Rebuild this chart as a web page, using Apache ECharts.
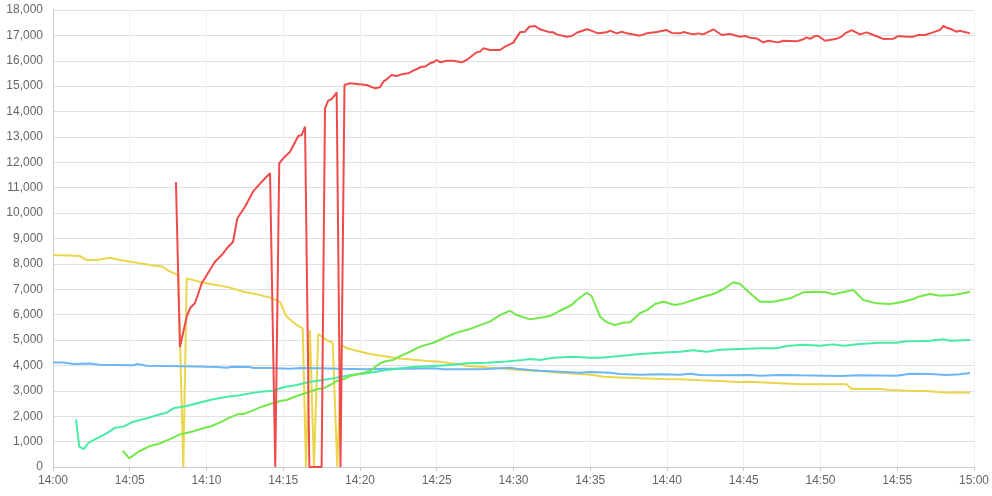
<!DOCTYPE html>
<html>
<head>
<meta charset="utf-8">
<script src="https://cdn.jsdelivr.net/npm/echarts@6/dist/echarts.min.js"></script>
<style>html,body{margin:0;padding:0;background:#fff}#c{width:992px;height:496px}</style>
</head>
<body>
<div id="c"></div>
<script>
// x values are minutes after 14:00
var xTickLabels = ['14:00','14:05','14:10','14:15','14:20','14:25','14:30','14:35','14:40','14:45','14:50','14:55','15:00'];

var redT = [8.01,8.27,8.71,8.93,9.25,9.69,10.10,10.55,10.99,11.42,11.73,12.01,12.51,13.03,13.60,14.14,14.25,14.48,14.74,15.00,15.44,15.98,16.20,16.42,16.70,17.50,17.72,17.93,18.16,18.37,18.48,18.73,18.99,19.35,20.44,20.98,21.30,21.52,21.74,22.07,22.39,22.72,23.15,23.47,24.02,24.23,24.56,24.78,25.00,25.21,25.65,26.08,26.63,26.95,27.60,27.82,28.03,28.47,29.12,29.45,29.99,30.42,30.75,31.03,31.40,31.73,32.38,32.59,32.81,33.47,33.79,34.12,34.77,34.98,35.52,36.07,36.29,36.72,37.05,37.38,38.24,38.68,39.33,39.98,40.31,40.85,41.07,41.71,42.04,42.37,43.02,43.56,44.10,44.76,45.08,45.41,45.84,46.27,46.60,47.25,47.58,48.45,48.88,49.10,49.32,49.64,49.86,50.29,51.05,51.38,51.60,52.03,52.57,53.01,53.44,54.09,54.74,55.07,55.62,56.05,56.37,56.81,57.13,57.57,57.78,58.00,58.22,58.55,58.83,59.09,59.41,59.74];
var redV = [11225,4726,5920,6260,6460,7235,7640,8086,8350,8677,8874,9795,10252,10843,11237,11567,11606,0,11962,12160,12420,13035,13075,13403,0,0,14128,14430,14495,14652,14757,0,15046,15112,15046,14915,14955,15177,15270,15440,15400,15465,15505,15610,15765,15765,15900,15940,16030,15940,16000,16000,15940,16030,16335,16360,16490,16425,16425,16555,16715,17120,17145,17340,17370,17240,17120,17120,17040,16950,16975,17105,17240,17210,17080,17120,17185,17080,17145,17080,16990,17080,17130,17210,17095,17080,17130,17040,17080,17040,17240,17015,17055,16950,16975,16910,16880,16725,16790,16725,16790,16765,16845,16920,16860,16975,16975,16790,16870,16950,17080,17210,17040,17120,17015,16860,16870,16975,16950,16950,17015,17015,17080,17170,17210,17370,17300,17240,17145,17185,17130,17080];

var yellowT = [0,1.76,2.20,2.85,3.71,4.36,5.45,6.32,7.17,7.51,8.16,8.49,8.71,9.79,10.66,11.53,12.40,13.27,14.14,14.79,15.22,15.88,16.27,16.48,16.74,17.00,17.28,17.83,18.22,18.52,18.81,19.13,19.79,20.65,21.52,22.39,23.69,24.35,25.21,25.86,26.51,26.95,27.82,28.47,29.12,29.77,30.42,31.73,33.03,34.33,35.20,35.85,36.94,38.24,39.54,40.85,42.15,43.45,44.54,45.41,46.06,47.36,48.66,51.71,52.03,53.88,54.53,55.62,56.92,58.22,59.09,59.74];
var yellowV = [8350,8310,8150,8150,8240,8150,8045,7955,7890,7730,7560,0,7430,7260,7170,7065,6905,6800,6680,6500,5920,5590,5460,0,5395,0,5240,5000,4895,0,4805,4675,4580,4450,4370,4280,4215,4175,4150,4085,4045,3980,3950,3910,3890,3850,3820,3780,3715,3660,3625,3555,3530,3495,3465,3455,3415,3385,3350,3360,3335,3295,3255,3255,3070,3070,3030,3005,2990,2925,2940,2925];

var blueT = [0,0.67,1.32,2.41,3.06,4.15,5.23,5.50,6.10,7.41,8.49,10.01,10.66,11.32,11.75,12.83,13.05,14.14,15.44,16.09,17.39,18.70,20.44,21.74,23.26,24.78,25.43,26.95,28.25,29.77,30.21,31.07,31.73,34.33,34.98,36.29,36.94,38.24,39.54,40.85,41.50,42.15,43.45,45.41,46.06,47.36,48.66,51.27,52.57,54.96,55.86,57.13,58.22,59.09,59.74];
var blueV = [4120,4120,4060,4075,4025,4020,4005,4055,3990,3980,3970,3945,3940,3910,3950,3940,3900,3900,3870,3895,3890,3870,3850,3870,3870,3890,3850,3850,3860,3910,3870,3820,3790,3715,3740,3715,3660,3635,3650,3635,3675,3625,3610,3625,3595,3625,3610,3585,3610,3595,3675,3660,3625,3650,3700];

var tealT = [1.50,1.71,2.00,2.30,2.85,3.50,4.04,4.58,5.23,6.10,6.97,7.41,7.84,8.71,9.58,10.44,11.32,12.18,12.83,13.49,14.35,15.00,15.88,16.74,17.61,18.48,19.35,20.44,21.74,23.26,24.78,25.86,26.95,28.25,29.56,30.42,31.07,31.73,32.59,33.90,34.98,35.64,36.94,38.24,39.54,40.85,41.71,42.59,43.45,44.76,46.06,47.15,47.80,48.88,49.97,50.83,51.49,52.57,53.88,54.96,55.62,56.48,57.13,58.00,58.44,59.74];
var tealV = [1880,800,700,950,1130,1325,1550,1590,1785,1915,2075,2140,2310,2400,2540,2665,2770,2830,2900,2965,3005,3140,3230,3360,3425,3520,3610,3690,3820,3925,3980,4015,4085,4110,4160,4200,4255,4215,4305,4345,4305,4305,4370,4450,4500,4540,4595,4540,4620,4650,4675,4675,4765,4815,4780,4830,4780,4845,4895,4895,4950,4960,4975,5030,4975,5000];

var limeT = [4.54,4.97,5.56,6.32,6.86,7.62,8.27,9.04,9.79,10.34,10.99,11.53,12.07,12.40,12.83,13.49,14.14,14.79,15.22,15.88,16.53,17.18,17.61,18.05,18.48,18.91,19.35,20.00,20.65,21.30,21.74,22.17,22.61,23.26,23.91,24.78,25.43,26.08,26.51,27.17,27.82,28.47,29.12,29.77,30.21,31.07,31.73,32.38,33.03,33.79,34.12,34.77,35.09,35.64,36.07,36.61,37.15,37.59,38.24,38.78,39.22,39.76,40.52,41.06,41.71,42.37,43.02,43.67,44.32,44.76,45.30,46.06,46.93,48.01,48.88,49.75,50.40,50.83,51.27,52.14,52.36,52.79,53.66,54.53,55.40,56.05,56.37,57.13,57.78,58.64,59.30,59.74];
var limeV = [640,340,600,830,905,1100,1285,1390,1525,1615,1785,1955,2085,2085,2180,2350,2480,2600,2640,2795,2925,3060,3100,3230,3385,3455,3585,3670,3780,4085,4175,4215,4370,4540,4740,4895,5070,5240,5330,5435,5590,5725,5985,6155,5985,5815,5880,5945,6155,6380,6575,6865,6735,5920,5700,5590,5685,5700,6055,6210,6420,6510,6380,6445,6575,6705,6815,7000,7275,7210,6905,6510,6510,6645,6880,6905,6880,6800,6865,6970,6840,6575,6445,6420,6510,6615,6705,6815,6745,6775,6840,6905];

function pairs(t, v) { return t.map(function (x, i) { return [x, v[i]]; }); }

var chart = echarts.init(document.getElementById('c'));
function mk(name, t, v, color) {
  return {
    name: name, type: 'line', data: pairs(t, v), showSymbol: false, symbol: 'none',
    lineStyle: { width: 2, color: color }, itemStyle: { color: color }, animation: false
  };
}
chart.setOption({
  animation: false,
  grid: { left: 53, right: 18, top: 10, bottom: 29 },
  xAxis: {
    type: 'value', min: 0, max: 60, interval: 5,
    axisLine: { lineStyle: { color: '#cccccc' } },
    axisTick: { show: true, length: 4, lineStyle: { color: '#cccccc' } },
    axisLabel: { color: '#666', fontSize: 12, margin: 8,
      formatter: function (v) { return xTickLabels[Math.round(v / 5)]; } },
    splitLine: { show: true, lineStyle: { color: '#f1f1f1' } }
  },
  yAxis: {
    type: 'value', min: 0, max: 18000, interval: 1000,
    axisLine: { show: true, lineStyle: { color: '#cccccc' } },
    axisTick: { show: false },
    axisLabel: { color: '#666', fontSize: 12, margin: 10,
      formatter: function (v) { return v.toLocaleString('en-US'); } },
    splitLine: { lineStyle: { color: '#e0e0e0' } }
  },
  series: [
    mk('yellow', yellowT, yellowV, '#ebd54b'),
    mk('blue', blueT, blueV, '#6cb6f5'),
    mk('teal', tealT, tealV, '#48eaa8'),
    mk('lime', limeT, limeV, '#74e84a'),
    mk('red', redT, redV, '#f04b4b')
  ]
});
</script>
</body>
</html>
